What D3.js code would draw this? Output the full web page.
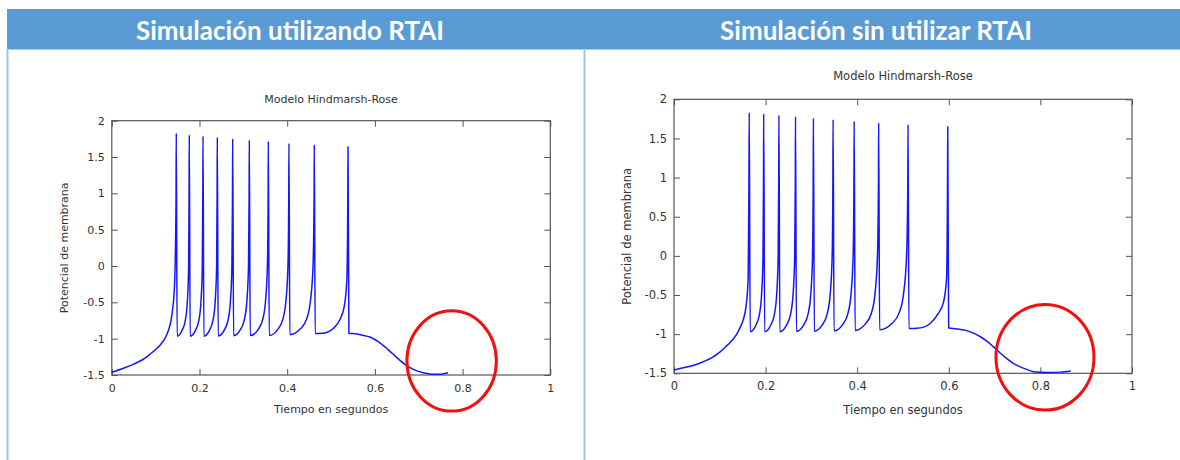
<!DOCTYPE html>
<html>
<head>
<meta charset="utf-8">
<script src="https://cdn.jsdelivr.net/npm/d3@7"></script>
<style>
  body { margin: 0; background: #fff; }
  svg { display: block; }
</style>
</head>
<body>
<div id="main"></div>
<script>
// panel headers
const headers = ["Simulación utilizando RTAI", "Simulación sin utilizar RTAI"];
const plotTitle = "Modelo Hindmarsh-Rose";
const xLabel = "Tiempo en segundos";
const yLabel = "Potencial de membrana";

const xTicks = [0, 0.2, 0.4, 0.6, 0.8, 1];
const xTickLabels = ["0", "0.2", "0.4", "0.6", "0.8", "1"];
const yTicks = [-1.5, -1, -0.5, 0, 0.5, 1, 1.5, 2];
const yTickLabels = ["-1.5", "-1", "-0.5", "0", "0.5", "1", "1.5", "2"];

// membrane potential (RTAI) [t, v]
const traceRtai = [
  [0,-1.463],[0.025,-1.41],[0.049,-1.353],[0.07,-1.29],[0.087,-1.215],[0.1,-1.15],[0.11,-1.09],
  [0.12,-1.01],[0.125,-0.95],[0.13,-0.87],[0.135,-0.75],[0.139,-0.58],[0.142,-0.38],[0.144,-0.1],[0.1465,0.9],
  [0.147,1.826],[0.149,-0.965],[0.1604,-0.885],[0.1678,-0.745],[0.1722,-0.495],[0.1752,-0.015],[0.1762,0.9],
  [0.1767,1.803],[0.1787,-0.965],[0.1908,-0.885],[0.1986,-0.745],[0.2033,-0.495],[0.2064,-0.015],[0.2075,0.9],
  [0.208,1.789],[0.21,-0.965],[0.2227,-0.885],[0.2308,-0.745],[0.2357,-0.495],[0.239,-0.015],[0.2401,0.9],
  [0.2406,1.771],[0.2426,-0.963],[0.2564,-0.883],[0.2652,-0.743],[0.2704,-0.493],[0.2739,-0.013],[0.2752,0.9],
  [0.2757,1.752],[0.2777,-0.96],[0.2928,-0.88],[0.3022,-0.74],[0.3079,-0.49],[0.3117,-0.01],[0.3131,0.9],
  [0.3136,1.734],[0.3156,-0.958],[0.3331,-0.878],[0.344,-0.738],[0.3505,-0.488],[0.3548,-0.008],[0.3565,0.9],
  [0.357,1.716],[0.359,-0.955],[0.3782,-0.875],[0.3899,-0.735],[0.397,-0.485],[0.4017,-0.005],[0.4035,0.9],
  [0.404,1.688],[0.406,-0.945],[0.43,-0.865],[0.4445,-0.725],[0.4531,-0.475],[0.4589,0],[0.4613,0.9],
  [0.4618,1.67],[0.4638,-0.928],[0.48,-0.925],[0.49,-0.915],[0.505,-0.86],[0.52,-0.74],[0.53,-0.56],[0.536,-0.19],[0.5382,0.9],
  [0.5387,1.642],[0.5407,-0.926],[0.55,-0.93],[0.57,-0.95],[0.59,-0.98],[0.61,-1.05],[0.63,-1.15],[0.65,-1.26],
  [0.67,-1.36],[0.69,-1.43],[0.71,-1.47],[0.73,-1.49],[0.75,-1.49],[0.767,-1.47]
];

// membrane potential (no RTAI) [t, v]
const traceNoRtai = [
  [0,-1.458],[0.02,-1.43],[0.045,-1.394],[0.065,-1.35],[0.083,-1.3],[0.1,-1.23],[0.113,-1.16],[0.125,-1.09],
  [0.136,-1.01],[0.144,-0.92],[0.151,-0.82],[0.158,-0.61],[0.162,-0.27],[0.1636,0.9],
  [0.1643,1.83],[0.1663,-0.969],[0.1785,-0.889],[0.1864,-0.749],[0.1912,-0.499],[0.1943,-0.019],[0.1954,0.9],
  [0.1959,1.817],[0.1979,-0.969],[0.2108,-0.889],[0.2191,-0.749],[0.2241,-0.499],[0.2274,-0.019],[0.2286,0.9],
  [0.2291,1.796],[0.2311,-0.968],[0.2454,-0.888],[0.2544,-0.748],[0.2599,-0.498],[0.2635,-0.018],[0.2648,0.9],
  [0.2653,1.779],[0.2673,-0.965],[0.2829,-0.885],[0.2927,-0.745],[0.2985,-0.495],[0.3024,-0.015],[0.3039,0.9],
  [0.3044,1.758],[0.3064,-0.962],[0.3238,-0.882],[0.3345,-0.742],[0.341,-0.492],[0.3453,-0.012],[0.3469,0.9],
  [0.3474,1.741],[0.3494,-0.958],[0.3681,-0.878],[0.3796,-0.738],[0.3865,-0.488],[0.3911,-0.008],[0.3929,0.9],
  [0.3934,1.719],[0.3954,-0.952],[0.4175,-0.872],[0.4309,-0.732],[0.4389,-0.482],[0.4442,-0.002],[0.4464,0.9],
  [0.4469,1.698],[0.4489,-0.945],[0.4757,-0.865],[0.4918,-0.725],[0.5014,-0.475],[0.5078,0],[0.5105,0.9],
  [0.511,1.677],[0.513,-0.928],[0.53,-0.925],[0.545,-0.91],[0.56,-0.86],[0.577,-0.735],[0.588,-0.6],[0.595,-0.3],[0.5972,0.9],
  [0.5977,1.651],[0.5997,-0.918],[0.605,-0.925],[0.62,-0.935],[0.639,-0.955],[0.655,-0.99],[0.668,-1.03],
  [0.683,-1.09],[0.697,-1.16],[0.712,-1.24],[0.726,-1.31],[0.74,-1.37],[0.755,-1.415],[0.77,-1.45],
  [0.785,-1.48],[0.8,-1.488],[0.814,-1.49],[0.843,-1.485],[0.866,-1.47]
];

// red annotation ellipses in data units: [cx, cy, rx, ry]
const markRtai = [0.775, -1.307, 0.102, 0.69];
const markNoRtai = [0.81, -1.295, 0.107, 0.675];

const width = 1180, height = 460;

const svg = d3.select("#main").append("svg")
    .attr("width", width)
    .attr("height", height)
    .attr("viewBox", [0, 0, width, height]);

// header band
svg.append("rect")
    .attr("x", 7).attr("y", 9)
    .attr("width", width - 7).attr("height", 40.5)
    .attr("fill", "#5b9bd5");

svg.selectAll("line.sep")
    .data([7.5, 584.5])
    .join("line")
    .attr("class", "sep")
    .attr("x1", d => d).attr("x2", d => d)
    .attr("y1", 49.5).attr("y2", height)
    .attr("stroke", "#9dc3e6")
    .attr("stroke-width", 2);

svg.selectAll("text.head")
    .data(headers)
    .join("text")
    .attr("class", "head")
    .attr("x", (d, i) => i ? 876 : 290)
    .attr("y", 30)
    .attr("text-anchor", "middle")
    .attr("dominant-baseline", "central")
    .attr("fill", "#fff")
    .attr("font-family", "Lato, 'Open Sans', sans-serif")
    .attr("font-weight", "bold")
    .attr("font-size", 26)
    .text(d => d);

function panel(trace, mark, box) {
    const x = d3.scaleLinear().domain([0, 1]).range([box.left, box.right]);
    const y = d3.scaleLinear().domain([-1.5, 2]).range([box.bottom, box.top]);
    const fs = box.fs;
    const g = svg.append("g")
        .attr("font-family", "'DejaVu Sans', sans-serif")
        .attr("fill", "#333");

    const axisStyle = a => a
        .call(a => a.select(".domain").remove())
        .call(a => a.selectAll(".tick line").attr("stroke", "#555"))
        .call(a => a.selectAll(".tick text")
            .attr("fill", "#333")
            .attr("font-family", "'DejaVu Sans', sans-serif")
            .attr("font-size", fs));

    g.append("g")
        .attr("transform", `translate(0,${box.bottom})`)
        .call(d3.axisBottom(x).tickValues(xTicks).tickSize(-6).tickPadding(9)
            .tickFormat((d, i) => xTickLabels[i]))
        .call(axisStyle);
    g.append("g")
        .attr("transform", `translate(0,${box.top})`)
        .call(d3.axisTop(x).tickValues(xTicks).tickSize(-6).tickFormat(""))
        .call(axisStyle);
    g.append("g")
        .attr("transform", `translate(${box.left},0)`)
        .call(d3.axisLeft(y).tickValues(yTicks).tickSize(-6).tickPadding(7)
            .tickFormat((d, i) => yTickLabels[i]))
        .call(axisStyle);
    g.append("g")
        .attr("transform", `translate(${box.right},0)`)
        .call(d3.axisRight(y).tickValues(yTicks).tickSize(-6).tickFormat(""))
        .call(axisStyle);

    g.append("rect")
        .attr("x", box.left).attr("y", box.top)
        .attr("width", box.right - box.left)
        .attr("height", box.bottom - box.top)
        .attr("fill", "none")
        .attr("stroke", "#555")
        .attr("stroke-width", 1.2);

    g.append("path")
        .datum(trace)
        .attr("fill", "none")
        .attr("stroke", "#1515ff")
        .attr("stroke-width", 1.5)
        .attr("stroke-linejoin", "round")
        .attr("d", d3.line()
            .x(d => x(d[0]))
            .y(d => y(d[1]))
            .curve(d3.curveMonotoneX));

    g.append("text")
        .attr("x", (box.left + box.right) / 2)
        .attr("y", box.titleY)
        .attr("text-anchor", "middle")
        .attr("dominant-baseline", "central")
        .attr("font-size", fs)
        .text(plotTitle);

    g.append("text")
        .attr("x", (box.left + box.right) / 2)
        .attr("y", box.xLabelY)
        .attr("text-anchor", "middle")
        .attr("dominant-baseline", "central")
        .attr("font-size", fs)
        .text(xLabel);

    g.append("text")
        .attr("transform", `translate(${box.yLabelX},${(box.top + box.bottom) / 2}) rotate(-90)`)
        .attr("text-anchor", "middle")
        .attr("dominant-baseline", "central")
        .attr("font-size", fs)
        .text(yLabel);

    g.append("ellipse")
        .attr("cx", x(mark[0]))
        .attr("cy", y(mark[1]))
        .attr("rx", x(mark[2]) - x(0))
        .attr("ry", y(0) - y(mark[3]))
        .attr("fill", "none")
        .attr("stroke", "#f01010")
        .attr("stroke-width", 3);
}

panel(traceRtai, markRtai,
    {left: 111.8, right: 550.3, top: 120.7, bottom: 375, fs: 11, titleY: 99.5, xLabelY: 409, yLabelX: 64});
panel(traceNoRtai, markNoRtai,
    {left: 674, right: 1132, top: 99.3, bottom: 373.3, fs: 11.5, titleY: 76, xLabelY: 410, yLabelX: 627});
</script>
</body>
</html>
